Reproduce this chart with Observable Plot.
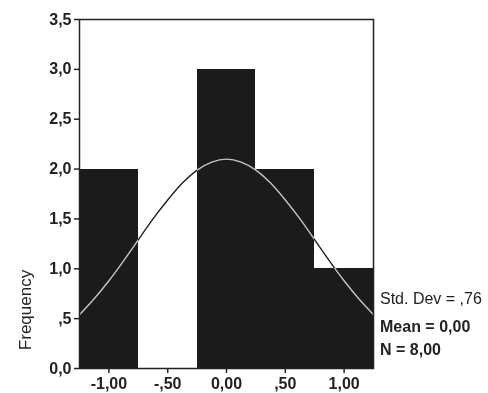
<!DOCTYPE html>
<html><head><meta charset="utf-8">
<script src="https://cdn.jsdelivr.net/npm/d3@7"></script>
<script src="https://cdn.jsdelivr.net/npm/@observablehq/plot@0.6"></script>
<style>
html,body{margin:0;padding:0;background:#fff;}
#wrap{position:relative;width:488px;height:393px;}
</style></head><body><div id="wrap"></div>
<script>
// Histogram bins (centers) and frequencies
const binCenters = [-1.0, -0.5, 0.0, 0.5, 1.0];
const binCounts = [2, 0, 3, 2, 1];
const binWidth = 0.5;

// Normal curve
const curveX = [-1.25,-1.125,-1.0,-0.875,-0.75,-0.625,-0.5,-0.375,-0.25,-0.125,0,0.125,0.25,0.375,0.5,0.625,0.75,0.875,1.0,1.125,1.25];
const curveY = [0.54,0.70,0.88,1.08,1.29,1.50,1.69,1.86,1.99,2.07,2.10,2.07,1.99,1.86,1.69,1.50,1.29,1.08,0.88,0.70,0.54];

// Tick labels
const xTicks = [-1, -0.5, 0, 0.5, 1];
const xTickLabels = ["-1,00", "-,50", "0,00", ",50", "1,00"];
const yTicks = [0, 0.5, 1, 1.5, 2, 2.5, 3, 3.5];
const yTickLabels = ["0,0", ",5", "1,0", "1,5", "2,0", "2,5", "3,0", "3,5"];

// Stats
const statLines = ["Std. Dev = ,76", "Mean = 0,00", "N = 8,00"];
const statBold = [false, true, true];
const yLabel = "Frequency";

const bins = binCenters.map((c, i) => ({x1: c - binWidth / 2, x2: c + binWidth / 2, y: binCounts[i]}));
const curve = curveX.map((x, i) => ({x, y: curveY[i]}));

const font = '"Liberation Sans", Arial, sans-serif';

const svg = Plot.plot({
  width: 488,
  height: 393,
  marginLeft: 79,
  marginRight: 115,
  marginTop: 19,
  marginBottom: 25,
  style: {background: "white", fontFamily: font, fontSize: "16px", color: "#222"},
  x: {domain: [-1.25, 1.25]},
  y: {domain: [0, 3.5]},
  marks: [
    Plot.rect(bins, {x1: "x1", x2: "x2", y1: 0, y2: "y", fill: "#1b1b1b", inset: 0, shapeRendering: "crispEdges"}),
    Plot.line(curve, {x: "x", y: "y", curve: "natural", stroke: "#e0e0e0", strokeWidth: 1.4, mixBlendMode: "difference"}),
    Plot.frame({stroke: "#222", strokeWidth: 1.5}),
    Plot.axisX({ticks: xTicks, tickFormat: d => xTickLabels[xTicks.indexOf(d)], tickSize: 5, tickPadding: 4, label: null, fontWeight: "bold", stroke: "#222", strokeWidth: 1.5}),
    Plot.axisY({ticks: yTicks, tickFormat: d => yTickLabels[yTicks.indexOf(d)], tickSize: 5, tickPadding: 3, label: null, fontWeight: "bold", stroke: "#222", strokeWidth: 1.5})
  ]
});

const s = d3.select(svg);
s.selectAll('g[aria-label="line"] path').style("mix-blend-mode", "difference");
s.append("text")
  .attr("transform", "translate(31,310) rotate(-90)")
  .attr("text-anchor", "middle")
  .attr("font-family", font)
  .attr("font-size", 17)
  .attr("fill", "#222")
  .text(yLabel);
const statBaselines = [304, 332, 355];
statLines.forEach((t, i) => {
  s.append("text")
    .attr("x", 380).attr("y", statBaselines[i])
    .attr("text-anchor", "start")
    .attr("font-family", font)
    .attr("font-size", 16)
    .attr("font-weight", statBold[i] ? "bold" : "normal")
    .attr("fill", "#222")
    .text(t);
});
document.getElementById("wrap").appendChild(svg);
</script></body></html>
